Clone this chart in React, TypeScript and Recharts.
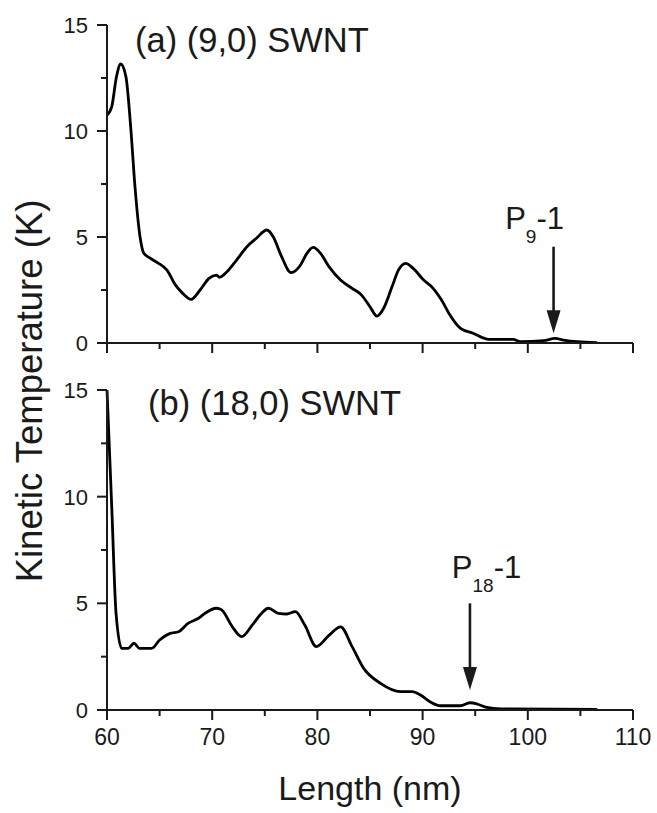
import React from 'react';
import { LineChart, Line, XAxis, YAxis, ReferenceLine, ReferenceDot } from 'recharts';

// panel (a): (9,0) SWNT
const lengthA = [60, 60.45, 60.9, 61.3, 61.8, 62.25, 62.66, 63.14, 63.5, 64.1, 64.9, 65.7, 66.5, 67.2, 68.0, 68.85, 69.7, 70.4, 70.7, 71.4, 72.3, 73.3, 74.2, 75.2, 75.8, 76.6, 77.5, 78.4, 79.0, 79.6, 80.3, 81.1, 82.2, 83.3, 84.2, 85.0, 85.65, 86.3, 87.1, 87.7, 88.4, 89.1, 90.1, 91.0, 91.8, 92.6, 93.6, 94.8, 96.3, 98.6, 99.3, 101.5, 102.6, 103.4, 104.7, 106.6];
const tempA = [10.75, 11.15, 12.56, 13.16, 12.56, 10.2, 7.37, 5.01, 4.23, 4.0, 3.76, 3.44, 2.74, 2.34, 2.06, 2.5, 3.05, 3.2, 3.1, 3.36, 3.9, 4.54, 4.94, 5.33, 5.01, 4.07, 3.32, 3.68, 4.23, 4.51, 4.23, 3.6, 2.97, 2.58, 2.26, 1.71, 1.27, 1.64, 2.66, 3.44, 3.76, 3.52, 2.97, 2.58, 2.03, 1.32, 0.69, 0.46, 0.17, 0.17, 0.06, 0.11, 0.22, 0.14, 0.06, 0.02];

// panel (b): (18,0) SWNT
const lengthB = [60, 60.45, 60.86, 61.4, 62.0, 62.57, 63.07, 64.25, 65.0, 66.0, 66.8, 67.7, 68.7, 69.3, 70.4, 70.9, 71.9, 72.8, 73.8, 74.55, 75.35, 76.3, 77.1, 77.9, 78.8, 79.9, 81.1, 82.2, 83.3, 84.4, 86.0, 87.9, 89.0, 89.8, 90.7, 91.7, 93.6, 94.5, 95.2, 96.1, 97.4, 106.6];
const tempB = [15.0, 9.53, 4.53, 2.89, 2.89, 3.13, 2.89, 2.89, 3.28, 3.59, 3.67, 4.06, 4.3, 4.53, 4.77, 4.69, 3.91, 3.44, 3.98, 4.45, 4.77, 4.53, 4.5, 4.61, 3.98, 2.97, 3.5, 3.9, 2.97, 1.95, 1.25, 0.86, 0.86, 0.7, 0.39, 0.2, 0.2, 0.34, 0.28, 0.12, 0.05, 0.03];

const xTicks = [60, 65, 70, 75, 80, 85, 90, 95, 100, 105, 110];
const yTicks = [0, 2.5, 5, 7.5, 10, 12.5, 15];

// arrow markers: x position, top of shaft, tip
const arrowA = { x: 102.45, top: 4.54, tip: 0.46 };
const arrowB = { x: 94.5, top: 5.0, tip: 0.94 };

const dataA = lengthA.map((x, i) => ({ x, y: tempA[i] }));
const dataB = lengthB.map((x, i) => ({ x, y: tempB[i] }));

const INK = '#1a1a1a';
const FONT = '"Liberation Sans", Arial, Helvetica, sans-serif';

// major ticks labelled, minor ticks shorter, all pointing outward
function XTick(props: any) {
  const { x, y, payload, showLabel } = props;
  const major = payload.value % 10 === 0;
  return (
    <g>
      <rect x={x - 1} y={y} width={2} height={major ? 10 : 6} fill={INK} />
      {showLabel && major ? (
        <text x={x} y={y + 35} textAnchor="middle" fontSize={23} fill={INK} fontFamily={FONT}>
          {payload.value}
        </text>
      ) : null}
    </g>
  );
}

function YTick(props: any) {
  const { x, y, payload } = props;
  const major = payload.value % 5 === 0;
  return (
    <g>
      <rect x={x - (major ? 10 : 6)} y={y - 1} width={major ? 10 : 6} height={2} fill={INK} />
      {major ? (
        <text x={x - 19} y={y + 8} textAnchor="end" fontSize={22} fill={INK} fontFamily={FONT}>
          {payload.value}
        </text>
      ) : null}
    </g>
  );
}

const arrowHead = (p: any) => (
  <polygon points={`${p.cx - 7},${p.cy - 23} ${p.cx + 7},${p.cy - 23} ${p.cx},${p.cy}`} fill={INK} />
);

const title = (txt: string) => (p: any) => (
  <text x={p.cx} y={p.cy} fontSize={34.5} fill={INK} fontFamily={FONT}>{txt}</text>
);

const peakLabel = (sub: string) => (p: any) => (
  <text x={p.cx} y={p.cy} fontSize={31} fill={INK} fontFamily={FONT}>
    P
    <tspan fontSize={19} dy={14}>{sub}</tspan>
    <tspan dy={-14}>-1</tspan>
  </text>
);

function Panel({ data, height, top, showLabels, arrow, name, sub, nameAt, subAt }: any) {
  return (
    <LineChart width={657} height={height} data={data} margin={{ top, right: 24, bottom: 0, left: 0 }}>
      <XAxis
        type="number"
        dataKey="x"
        domain={[60, 110]}
        ticks={xTicks}
        interval={0}
        height={showLabels ? 103 : 17}
        tickLine={false}
        tickSize={0}
        tickMargin={0}
        tick={(p: any) => <XTick {...p} showLabel={showLabels} />}
        axisLine={{ stroke: INK, strokeWidth: 2 }}
        label={
          showLabels
            ? { value: 'Length (nm)', position: 'insideBottom', offset: 13, fontSize: 34, fill: INK, fontFamily: FONT }
            : undefined
        }
      />
      <YAxis
        type="number"
        domain={[0, 15]}
        ticks={yTicks}
        interval={0}
        width={107}
        tickLine={false}
        tickSize={0}
        tickMargin={0}
        tick={(p: any) => <YTick {...p} />}
        axisLine={{ stroke: INK, strokeWidth: 2 }}
      />
      <Line type="monotone" dataKey="y" stroke="#000" strokeWidth={2.8} dot={false} isAnimationActive={false} />
      <ReferenceLine
        segment={[{ x: arrow.x, y: arrow.top }, { x: arrow.x, y: arrow.tip + 1 }]}
        stroke={INK}
        strokeWidth={2.6}
      />
      <ReferenceDot x={arrow.x} y={arrow.tip} r={0} shape={arrowHead} />
      <ReferenceDot x={nameAt[0]} y={nameAt[1]} r={0} shape={title(name)} />
      <ReferenceDot x={subAt[0]} y={subAt[1]} r={0} shape={peakLabel(sub)} />
    </LineChart>
  );
}

export default function App() {
  return (
    <div style={{ position: 'absolute', left: 0, top: 0, width: 657, height: 813, background: '#fff', fontFamily: FONT }}>
      <div style={{ position: 'absolute', left: 0, top: 0 }}>
        <Panel
          data={dataA}
          height={360}
          top={25}
          showLabels={false}
          arrow={arrowA}
          name="(a) (9,0) SWNT"
          nameAt={[62.66, 13.73]}
          sub="9"
          subAt={[97.85, 5.38]}
        />
      </div>
      <div style={{ position: 'absolute', left: 0, top: 360 }}>
        <Panel
          data={dataB}
          height={453}
          top={30}
          showLabels
          arrow={arrowB}
          name="(b) (18,0) SWNT"
          nameAt={[63.9, 13.83]}
          sub="18"
          subAt={[92.78, 6.19]}
        />
      </div>
      <svg width={657} height={813} style={{ position: 'absolute', left: 0, top: 0, pointerEvents: 'none' }}>
        <text
          x={42}
          y={391}
          transform="rotate(-90 42 391)"
          textAnchor="middle"
          fontSize={36.5}
          fill={INK}
          fontFamily={FONT}
        >
          Kinetic Temperature (K)
        </text>
      </svg>
    </div>
  );
}
